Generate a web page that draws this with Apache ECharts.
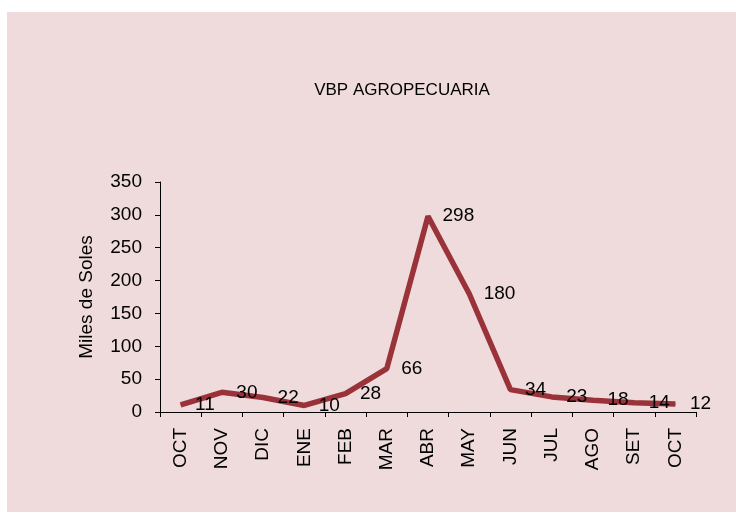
<!DOCTYPE html>
<html>
<head>
<meta charset="utf-8">
<script src="https://cdn.jsdelivr.net/npm/echarts@6/dist/echarts.min.js"></script>
<style>
  html, body { margin: 0; padding: 0; background: #ffffff; }
  #chart { width: 736px; height: 518px; }
</style>
</head>
<body>
<div id="chart"></div>
<script>
// datos del grafico
var meses = ['OCT', 'NOV', 'DIC', 'ENE', 'FEB', 'MAR', 'ABR', 'MAY', 'JUN', 'JUL', 'AGO', 'SET', 'OCT'];
var vbp = [11, 30, 22, 10, 28, 66, 298, 180, 34, 23, 18, 14, 12];
var ejeY = [0, 50, 100, 150, 200, 250, 300, 350];

var chart = echarts.init(document.getElementById('chart'));
var fuente = 'Liberation Sans, Arial, sans-serif';

var option = {
    animation: false,
    backgroundColor: '#ffffff',
    graphic: [{
        type: 'rect',
        z: -10,
        shape: { x: 7, y: 12, width: 729, height: 500 },
        style: { fill: '#efdbdc' }
    }],
    title: {
        text: 'VBP AGROPECUARIA',
        left: 397,
        top: 77,
        textAlign: 'center',
        textStyle: { fontFamily: fuente, fontSize: 17, fontWeight: 'normal', color: '#000' }
    },
    grid: { left: 160, right: 40, top: 182, bottom: 106 },
    xAxis: {
        type: 'category',
        data: meses,
        boundaryGap: true,
        axisLine: { lineStyle: { color: '#000', width: 1 } },
        axisTick: { show: true, length: 5, lineStyle: { color: '#000' } },
        axisLabel: { rotate: 90, margin: 16, color: '#000', fontFamily: fuente, fontSize: 19 }
    },
    yAxis: {
        type: 'value',
        min: ejeY[0],
        max: ejeY[ejeY.length - 1],
        interval: 50,
        name: 'Miles de Soles',
        nameLocation: 'middle',
        nameGap: 64,
        nameTextStyle: { fontFamily: fuente, fontSize: 19, color: '#000' },
        axisLine: { show: true, lineStyle: { color: '#000', width: 1 } },
        axisTick: { show: true, length: 5, lineStyle: { color: '#000' } },
        splitLine: { show: false },
        axisLabel: { margin: 18, color: '#000', fontFamily: fuente, fontSize: 19 }
    },
    series: [{
        type: 'line',
        data: vbp,
        symbol: 'circle',
        symbolSize: 1,
        showSymbol: true,
        itemStyle: { color: '#993339' },
        lineStyle: { color: '#993339', width: 5.5 },
        label: {
            show: true,
            position: 'right',
            distance: 14,
            color: '#000',
            fontFamily: fuente,
            fontSize: 19
        },
        labelLayout: { hideOverlap: false }
    }]
};
chart.setOption(option);
</script>
</body>
</html>
